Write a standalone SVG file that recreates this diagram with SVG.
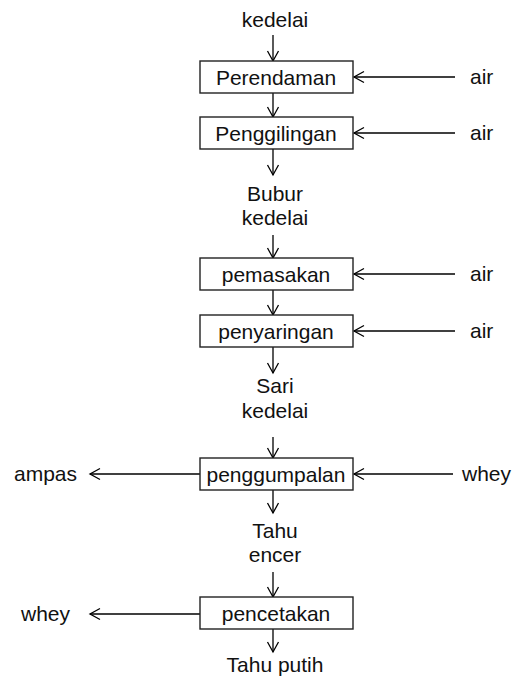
<svg xmlns="http://www.w3.org/2000/svg" width="517" height="676" viewBox="0 0 517 676">
<defs>
<marker id="ah" markerUnits="userSpaceOnUse" markerWidth="14" markerHeight="14" refX="11" refY="6.5" orient="auto">
<path d="M1,1 L11,6.5 L1,12" fill="none" stroke="#000" stroke-width="1.3"/>
</marker>
<style>
text{font-family:"Liberation Sans",Arial,sans-serif;font-size:21px;fill:#111;}
.c{text-anchor:middle;}
.e{text-anchor:end;}
rect{fill:#fff;stroke:#222;stroke-width:1.4;}
.cn line{stroke:#000;stroke-width:1.3;marker-end:url(#ah);}
</style>
</defs>
<rect x="0" y="0" width="517" height="676" style="fill:#fff;stroke:none"/>
<g class="cn" id="connectors">
<line x1="273" y1="35" x2="273" y2="61"/>
<line x1="273" y1="93" x2="273" y2="117"/>
<line x1="273" y1="149" x2="273" y2="175"/>
<line x1="273" y1="235" x2="273" y2="258"/>
<line x1="273" y1="290" x2="273" y2="315"/>
<line x1="273" y1="347" x2="273" y2="373"/>
<line x1="273" y1="437" x2="273" y2="458"/>
<line x1="273" y1="490" x2="273" y2="513"/>
<line x1="273" y1="572" x2="273" y2="597"/>
<line x1="273" y1="629" x2="273" y2="652"/>
<line x1="455" y1="77" x2="354" y2="77"/>
<line x1="455" y1="133" x2="354" y2="133"/>
<line x1="455" y1="274" x2="354" y2="274"/>
<line x1="455" y1="331" x2="354" y2="331"/>
<line x1="453" y1="474" x2="354" y2="474"/>
<line x1="200" y1="474" x2="90" y2="474"/>
<line x1="200" y1="614" x2="90" y2="614"/>
</g>
<g id="n-kedelai"><text class="c" x="275" y="27">kedelai</text></g>
<g id="n-perendaman"><rect x="200" y="61" width="153" height="32"/><text class="c" x="276" y="85">Perendaman</text></g>
<g id="n-air1"><text x="470" y="84">air</text></g>
<g id="n-penggilingan"><rect x="200" y="117" width="153" height="32"/><text class="c" x="276" y="141">Penggilingan</text></g>
<g id="n-air2"><text x="470" y="140">air</text></g>
<g id="n-bubur"><text class="c" x="275" y="201">Bubur</text><text class="c" x="275" y="225">kedelai</text></g>
<g id="n-pemasakan"><rect x="200" y="258" width="153" height="32"/><text class="c" x="276" y="282">pemasakan</text></g>
<g id="n-air3"><text x="470" y="281">air</text></g>
<g id="n-penyaringan"><rect x="200" y="315" width="153" height="32"/><text class="c" x="276" y="339">penyaringan</text></g>
<g id="n-air4"><text x="470" y="338">air</text></g>
<g id="n-sari"><text class="c" x="275" y="393">Sari</text><text class="c" x="275" y="418">kedelai</text></g>
<g id="n-penggumpalan"><rect x="200" y="458" width="153" height="32"/><text class="c" x="276" y="482">penggumpalan</text></g>
<g id="n-ampas"><text class="e" x="77" y="481">ampas</text></g>
<g id="n-whey1"><text x="462" y="481">whey</text></g>
<g id="n-tahuencer"><text class="c" x="275" y="538">Tahu</text><text class="c" x="275" y="562">encer</text></g>
<g id="n-pencetakan"><rect x="200" y="597" width="153" height="32"/><text class="c" x="276" y="621">pencetakan</text></g>
<g id="n-whey2"><text class="e" x="70" y="621">whey</text></g>
<g id="n-tahuputih"><text class="c" x="275" y="672">Tahu putih</text></g>
</svg>
